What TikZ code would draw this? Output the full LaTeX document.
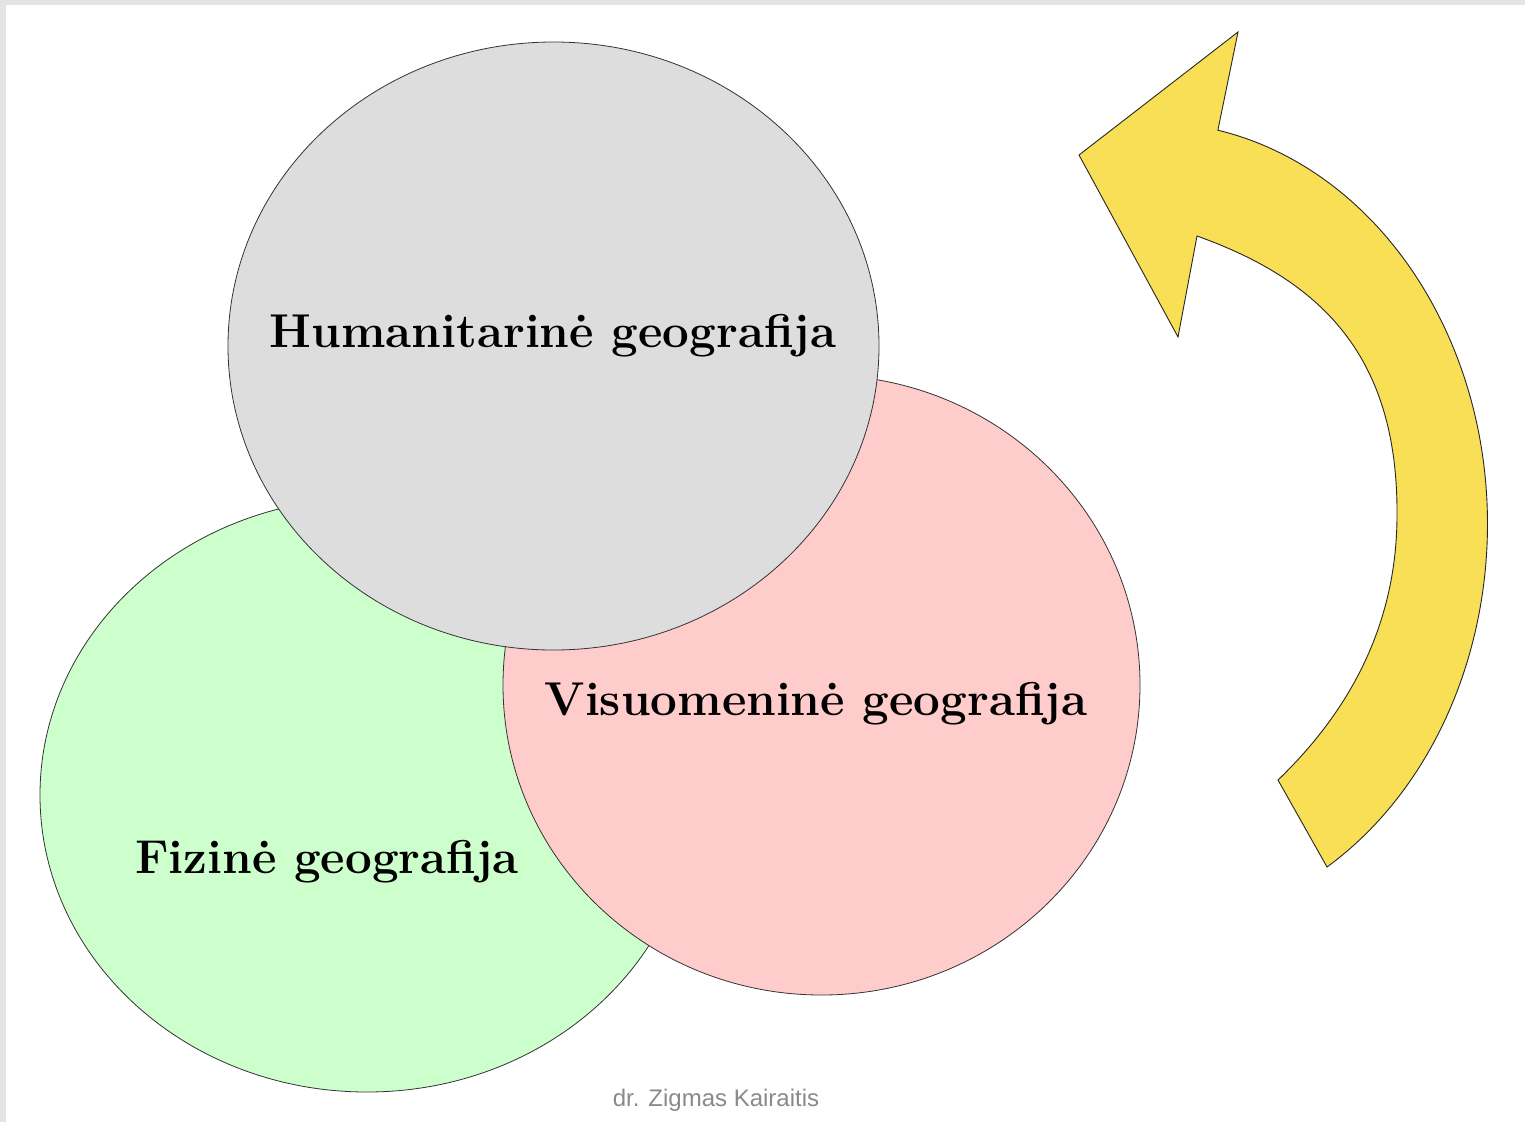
\documentclass[tikz,border=0pt]{standalone}
\usepackage{fontspec}
\usetikzlibrary{shapes.geometric}
\newfontfamily\footfont{Liberation Sans}
\definecolor{bordergrey}{HTML}{E4E4E4}
\definecolor{humgrey}{HTML}{DDDDDD}
\definecolor{fizgreen}{HTML}{CCFFCC}
\definecolor{vispink}{HTML}{FFCCCC}
\definecolor{arrowyellow}{HTML}{F9DF55}
\definecolor{footgrey}{HTML}{8A8A8A}
\begin{document}
\begin{tikzpicture}[x=1pt,y=-1pt,
  blob/.style={ellipse,draw=black!80,line width=0.8pt,inner sep=0pt},
  lbl/.style={anchor=base,inner sep=0pt,font=\fontsize{47.5}{52}\selectfont\bfseries}]
\useasboundingbox (0,0) rectangle (1525,1122);
\fill[bordergrey] (0,0) rectangle (1525,1122);
\fill[white] (6,5) rectangle (1525,1122);
% circles
\node[blob,fill=fizgreen,minimum width=654pt,minimum height=594pt] (fiz) at (367,795) {};
\node[blob,fill=vispink,minimum width=637pt,minimum height=620pt] (vis) at (821.5,685) {};
\node[blob,fill=humgrey,minimum width=651pt,minimum height=608pt] (hum) at (553.5,346) {};
% labels
\node[lbl] (humtxt) at (553,347) {Humanitarinė geografija};
\node[lbl] (vistxt) at (816,715) {Visuomeninė geografija};
\node[lbl] (fiztxt) at (327,873) {Fizinė geografija};
\node[anchor=base,inner sep=0pt,text=footgrey,font=\footfont\fontsize{24}{28}\selectfont] (foot) at (716,1106) {dr. Zigmas Kairaitis};
% curved arrow
\draw[fill=arrowyellow,draw=black!85,line width=0.9pt,line join=miter]
  (1327,867)
  arc[start angle=58.5,end angle=-78.6,x radius=336,y radius=402]
  -- (1238,32) -- (1079,155) -- (1178,337) -- (1197,236)
  .. controls (1320,280) and (1398,355) .. (1397,515)
  .. controls (1397,640) and (1335,725) .. (1278,780)
  -- cycle;
\end{tikzpicture}
\end{document}
